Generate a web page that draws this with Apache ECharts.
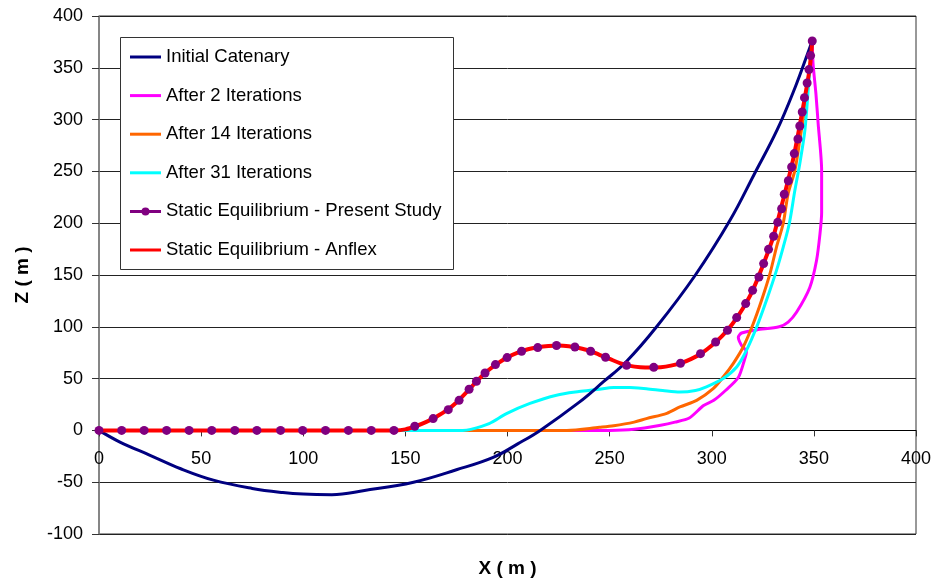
<!DOCTYPE html>
<html>
<head>
<meta charset="utf-8">
<script src="https://cdn.jsdelivr.net/npm/echarts@6/dist/echarts.min.js"></script>
<style>
html,body{margin:0;padding:0;background:#fff;}
#chart{width:934px;height:580px;}
</style>
</head>
<body>
<div id="chart"></div>
<script>
var seriesNames = ['Initial Catenary','After 2 Iterations','After 14 Iterations','After 31 Iterations','Static Equilibrium - Present Study','Static Equilibrium - Anflex'];
var xTicks = [0,50,100,150,200,250,300,350,400];
var yTicks = [-100,-50,0,50,100,150,200,250,300,350,400];

var initialCatenary = [[0,0],[10,-11],[25,-24],[40,-37],[56,-48],[75,-56],[90,-60],[100,-61.5],[114,-62],[130,-58],[154,-50],[175,-38],[193,-26],[205,-13],[216,0],[235,27],[247,47],[258,66],[273,100],[292,150],[309,203],[321,248],[332,290],[341,332],[347,364],[349.2,376]];

var after2 = [[0,0],[250,0],[262,1],[275,5],[282,8],[289,12],[296,24],[301,29],[307,39],[313,51],[316,68],[317,76],[314.6,82],[313,90],[314.6,94],[322,97],[333,100],[337.4,104.6],[341.5,114],[348,138],[351.3,164],[353,190],[353.8,210],[353.8,251],[352.1,296],[351,325],[349.6,354],[349.2,376]];

var after14 = [[0,0],[229,0],[245,3],[252,4.5],[262,8],[268,11.4],[278,16.5],[284.4,22.6],[292.6,29],[300.7,40.3],[305.6,51.5],[310.5,64.5],[315.4,80.5],[320.3,103],[324.4,125.6],[328.5,151.3],[331.7,177],[335,200],[337.4,228.6],[340.7,251],[343.1,280],[345.6,312],[347.2,338],[349.2,376]];

var after31 = [[0,0],[178,0],[182,1],[191,6.6],[199.5,16.2],[211,26],[224,34],[235,37.5],[244,39.5],[252,41.5],[260,41.3],[268,40.3],[276,38.5],[284.4,37],[292,38.5],[297.4,42],[305.6,50],[312.2,61.2],[317,77.3],[322,99.8],[326.8,125.6],[331.7,154.5],[335,177],[338,200],[340.7,231.8],[343.1,257.5],[345.6,289.7],[347.2,328],[349.2,376]];

var presentStudy = [[0,0],[11.1,0],[22.1,0],[33.1,0],[44.1,0],[55.2,0],[66.5,0],[77.3,0],[88.9,0],[99.7,0],[110.9,0],[122.1,0],[133.3,0],[144.4,0],[154.6,4],[163.6,11.4],[171,20],[176.3,29],[181.2,39.7],[184.8,47.4],[189,55.4],[194.1,63.5],[199.8,70.3],[206.9,76.4],[214.8,79.9],[224,82],[233,80.5],[240.7,76.4],[248,70.6],[258.3,62.8],[271.6,60.9],[284.7,64.8],[294.5,74.1],[301.9,85.3],[307.7,96.6],[312.2,108.9],[316.6,122.4],[320,135.2],[323.1,148.1],[325.4,161],[327.8,174.8],[330.3,187.4],[332.3,200.8],[334.2,214],[335.5,227.9],[337.5,241],[339.1,254.2],[340.4,267.2],[342.2,281.3],[343.1,293.8],[344.3,307.3],[345.4,321.2],[346.7,335.3],[347.6,348.3],[348.4,361.8],[349.2,375.9]];

var anflex = [[0,0],[145,0],[150,1],[155,4],[160,8],[165,13],[170,19],[175,27],[180,37],[185,47.5],[190,57],[195,64.5],[200,70.5],[205,75],[210,78.3],[215,80.3],[220,81.5],[225,82],[230,81.3],[235,79.5],[240,77],[245,73],[250,69],[255,65],[260,62.3],[265,61],[270,60.6],[275,61],[280,62.5],[285,65],[290,69],[295,74.5],[300,82],[305,91],[310,102.5],[315,117],[320,135],[325,159],[330,186],[335,223],[340,263],[345,315],[348,350],[349.2,376]];

var colors = ['#000080','#FF00FF','#FF6600','#00FFFF','#800080','#FF0000'];
var X_MIN = 0, X_MAX = 400, Y_MIN = -100, Y_MAX = 400, STEP = 50;
var GRID = {left:99, right:18, top:16, bottom:46};
var chartH = 580;
var plotH = chartH - GRID.top - GRID.bottom;
// place the x axis at z = 0 (offset from the bottom edge of the grid)
var xAxisOffset = -plotH * (0 - Y_MIN) / (Y_MAX - Y_MIN);

var chart = echarts.init(document.getElementById('chart'));
var FONT = '"Liberation Sans", Arial, sans-serif';
var LINE_ICON = 'path://M0,0L31,0L31,3L0,3Z';
var DOT_ICON = 'path://M0,2.5L12,2.5L12,5.5L0,5.5Z M19,2.5L31,2.5L31,5.5L19,5.5Z M11.5,4A4,4 0 1 1 19.5,4A4,4 0 1 1 11.5,4Z';

function lineSeries(name, data, color, width, z, sm){
  return {name:name, type:'line', data:data, showSymbol:false, symbol:'none', smooth:sm,
    lineStyle:{color:color, width:width}, itemStyle:{color:color}, z:z, animation:false};
}

chart.setOption({
  animation:false,
  grid:{left:GRID.left, right:GRID.right, top:GRID.top, bottom:GRID.bottom, containLabel:false, outerBoundsMode:'none',
    show:true, borderColor:'#333', borderWidth:1, backgroundColor:'#fff'},
  xAxis:{type:'value', min:X_MIN, max:X_MAX, interval:STEP, position:'bottom', offset:xAxisOffset,
    name:'X ( m )', nameLocation:'middle', nameGap:129,
    nameTextStyle:{fontFamily:FONT, fontSize:19, fontWeight:'bold', color:'#000'},
    axisLine:{onZero:false, lineStyle:{color:'#000', width:1}},
    axisTick:{show:true, inside:false, length:6, lineStyle:{color:'#333'}},
    axisLabel:{margin:20, fontFamily:FONT, fontSize:18, color:'#000',
      formatter:function(v){return xTicks.indexOf(v)>=0? String(v):'';}},
    splitLine:{show:false}},
  yAxis:{type:'value', min:Y_MIN, max:Y_MAX, interval:STEP,
    name:'Z ( m )', nameLocation:'middle', nameGap:67, nameRotate:90,
    nameTextStyle:{fontFamily:FONT, fontSize:19, fontWeight:'bold', color:'#000'},
    axisLine:{show:true, onZero:false, lineStyle:{color:'#808080', width:1.5}},
    axisTick:{show:true, length:7, lineStyle:{color:'#333'}},
    axisLabel:{margin:16, fontFamily:FONT, fontSize:18, color:'#000',
      formatter:function(v){return yTicks.indexOf(v)>=0? String(v):'';}},
    splitLine:{show:true, lineStyle:{color:'#222', width:1}}},
  graphic:[{type:'rect', left:120, top:37, z:100,
    shape:{width:333, height:232}, style:{fill:'#fff', stroke:'#333', lineWidth:1}}],
  legend:{orient:'vertical', left:130, top:47, padding:0, itemGap:18.6, itemWidth:31, itemHeight:12, z:200,
    textStyle:{fontFamily:FONT, fontSize:18.5, color:'#000', lineHeight:20},
    data:[
      {name:seriesNames[0], icon:LINE_ICON},
      {name:seriesNames[1], icon:LINE_ICON},
      {name:seriesNames[2], icon:LINE_ICON},
      {name:seriesNames[3], icon:LINE_ICON},
      {name:seriesNames[4], icon:DOT_ICON},
      {name:seriesNames[5], icon:LINE_ICON}
    ]},
  series:[
    lineSeries(seriesNames[0], initialCatenary, colors[0], 3, 8, 0.4),
    lineSeries(seriesNames[1], after2, colors[1], 3, 5, 0.25),
    lineSeries(seriesNames[2], after14, colors[2], 3, 6, 0.3),
    lineSeries(seriesNames[3], after31, colors[3], 3, 7, 0.3),
    {name:seriesNames[4], type:'line', data:presentStudy, symbol:'circle', symbolSize:9, showSymbol:true,
      lineStyle:{color:'#800080', width:3, opacity:0}, itemStyle:{color:'#800080'}, z:10, animation:false},
    lineSeries(seriesNames[5], anflex, colors[5], 4, 9, 0.3)
  ]
});
</script>
</body>
</html>
